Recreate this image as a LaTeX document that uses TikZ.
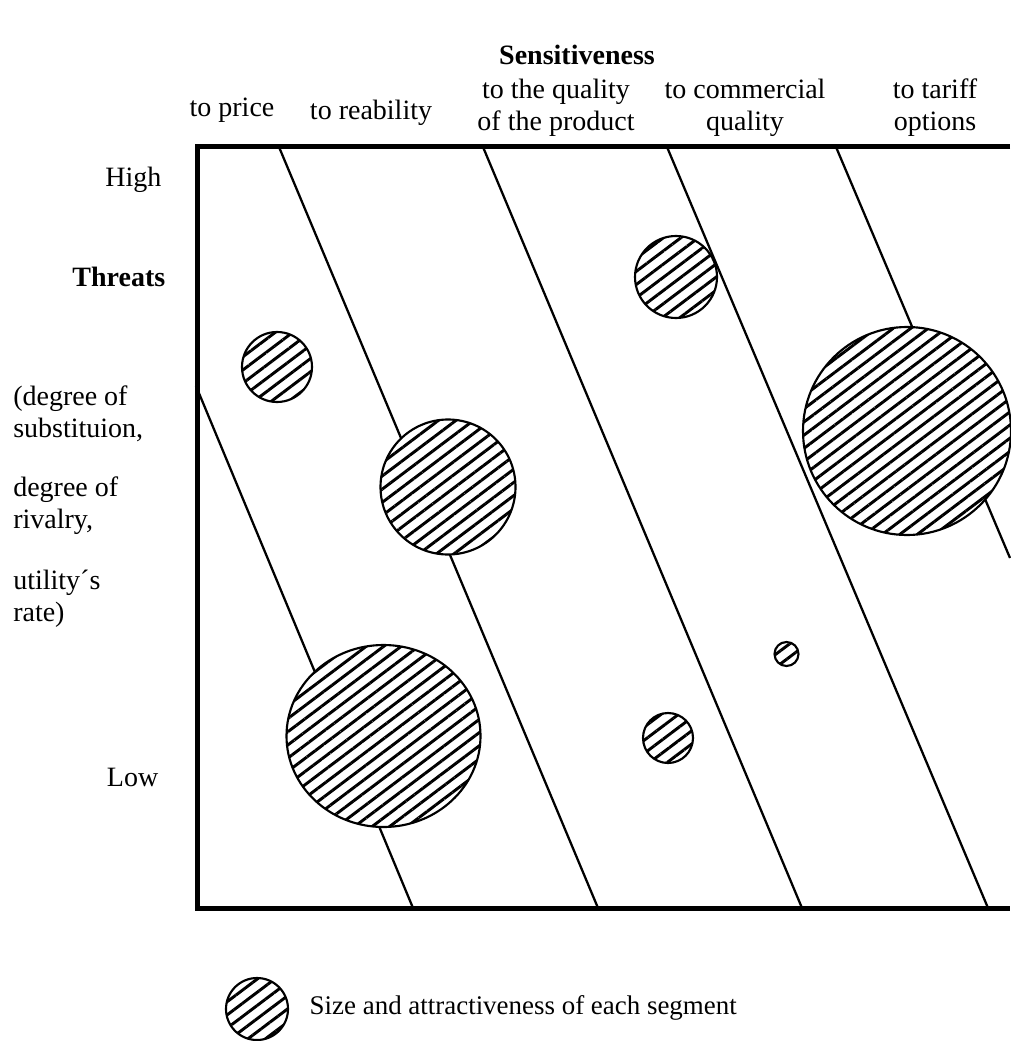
\documentclass[tikz,border=0pt]{standalone}
\usepackage{fontspec}
\setmainfont{Liberation Serif}
\usetikzlibrary{patterns.meta,shapes.geometric}

\begin{document}
\begin{tikzpicture}[x=0.75pt, y=-0.75pt,
  every node/.style={font=\fontsize{21}{24}\selectfont},
  segment/.style={circle, draw=black, line width=1.6pt, inner sep=0pt,
    preaction={fill=white},
    pattern={Lines[angle=37, distance=7.9pt, line width=2.2pt]}},
  frame/.style={line width=3.75pt},
  divider/.style={line width=1.7pt}]
\useasboundingbox (0,0) rectangle (1010,1041);

% Headings
\node[font=\fontsize{21}{24}\selectfont\bfseries] (sens) at (577,55) {Sensitiveness};
\node (price) at (232,110) {to price};
\node (reab) at (371,113) {to reability};
\node[align=center] (qprod) at (556,108) {to the quality\\of the product};
\node[align=center] (qcom) at (745,108) {to commercial\\quality};
\node[align=center] (tariff) at (935,108) {to tariff\\options};

\node[anchor=east] (high) at (166,180) {High};
\node[anchor=east,font=\fontsize{21}{24}\selectfont\bfseries] (threats) at (170,277) {Threats};
\node[anchor=west,align=left,inner sep=0pt] (subst) at (13,414) {(degree of\\substituion,};
\node[anchor=west,align=left,inner sep=0pt] (rival) at (13,506) {degree of\\rivalry,};
\node[anchor=west,align=left,inner sep=0pt] (util) at (13,599) {utility´s\\rate)};
\node[anchor=east] (low) at (163,777) {Low};

% Dividing lines
\coordinate (d1a) at (196,386);  \coordinate (d1b) at (413,908);
\coordinate (d2a) at (279,147);  \coordinate (d2b) at (598,908);
\coordinate (d3a) at (483,147);  \coordinate (d3b) at (802,908);
\coordinate (d4a) at (667,147);  \coordinate (d4b) at (988,908);
\coordinate (d5a) at (836,147);  \coordinate (d5b) at (1010,558);
\foreach \i in {1,...,5}
  \draw[divider] (d\i a) -- (d\i b);

% Frame
\coordinate (tr) at (1010,147);
\coordinate (tl) at (197,147);
\coordinate (bl) at (197,908);
\coordinate (br) at (1010,908);
\draw[frame] (tr) -- (tl) -- (bl) -- (br);

% Segments
\node[segment, minimum size=52.5pt] (s1) at (277,367) {};
\node[segment, minimum size=101.25pt] (s2) at (448,487) {};
\node[segment, ellipse, minimum width=145.5pt, minimum height=136.5pt] (s3) at (383.5,736) {};
\node[segment, minimum size=61.5pt] (s4) at (676,277) {};
\node[segment, minimum size=37.5pt] (s5) at (668,738) {};
\node[segment, minimum size=18pt] (s6) at (786.5,654) {};
\node[segment, minimum size=156pt] (s7) at (907,431) {};

% Legend
\node[segment, minimum size=46.5pt] (key) at (257,1009) {};
\node[anchor=west, font=\fontsize{20.2}{24}\selectfont] (keytext) at (305,1008) {Size and attractiveness of each segment};
\end{tikzpicture}
\end{document}
